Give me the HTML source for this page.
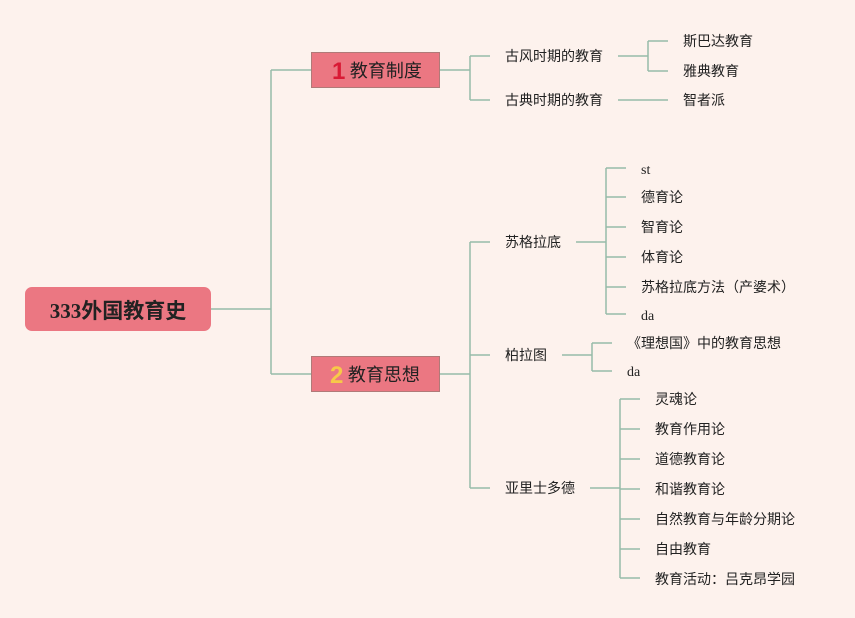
<!DOCTYPE html>
<html><head><meta charset="utf-8"><style>
body{margin:0;width:855px;height:618px;background:#fdf2ed;font-family:"Liberation Serif","Noto Sans CJK SC",sans-serif;position:relative;overflow:hidden}
.t{position:absolute;font-size:14px;color:#222;line-height:18px;white-space:nowrap;font-family:"Liberation Serif","Noto Sans CJK SC",sans-serif}
.box{position:absolute;background:#eb7782;border:1px solid #b07a78;box-sizing:border-box;color:#222}
</style></head><body>
<svg width="855" height="618" style="position:absolute;left:0;top:0" fill="none" stroke="#97bba9" stroke-width="1.5">
<path d="M211 309H271M271 70V374M271 70H311M271 374H311"/>
<path d="M440 70H470M470 56V100M470 56H490M470 100H490"/>
<path d="M618 56H648M648 41V71M648 41H668M648 71H668M618 100H668"/>
<path d="M440 374H470M470 242V488M470 242H490M470 355H490M470 488H490"/>
<path d="M576 242H606M606 168V314M606 168H626M606 197H626M606 227H626M606 257H626M606 287H626M606 314H626"/>
<path d="M562 355H592M592 343V371M592 343H612M592 371H612"/>
<path d="M590 488H620M620 399V578M620 399H640M620 429H640M620 459H640M620 489H640M620 519H640M620 549H640M620 578H640"/>
</svg>
<div class="box" style="left:25px;top:287px;width:186px;height:44px;border-radius:7px;border-color:#eb7782;font-weight:bold;font-size:21px;line-height:46px;text-align:center">333外国教育史</div>
<div class="box" style="left:311px;top:52px;width:129px;height:36px;font-size:18px;line-height:36px;padding-left:20px"><span style="color:#d91a35;font-weight:bold;font-family:'Liberation Sans',sans-serif;font-size:24px;vertical-align:-2px">1</span> 教育制度</div>
<div class="box" style="left:311px;top:356px;width:129px;height:36px;font-size:18px;line-height:36px;padding-left:18px"><span style="color:#f7c948;font-weight:bold;font-family:'Liberation Sans',sans-serif;font-size:24px;vertical-align:-2px">2</span> 教育思想</div>
<div class="t" style="left:505px;top:49px">古风时期的教育</div>
<div class="t" style="left:505px;top:93px">古典时期的教育</div>
<div class="t" style="left:683px;top:34px">斯巴达教育</div>
<div class="t" style="left:683px;top:64px">雅典教育</div>
<div class="t" style="left:683px;top:93px">智者派</div>
<div class="t" style="left:505px;top:235px">苏格拉底</div>
<div class="t" style="left:505px;top:348px">柏拉图</div>
<div class="t" style="left:505px;top:481px">亚里士多德</div>
<div class="t" style="left:641px;top:162px">st</div>
<div class="t" style="left:641px;top:190px">德育论</div>
<div class="t" style="left:641px;top:220px">智育论</div>
<div class="t" style="left:641px;top:250px">体育论</div>
<div class="t" style="left:641px;top:280px">苏格拉底方法（产婆术）</div>
<div class="t" style="left:641px;top:308px">da</div>
<div class="t" style="left:627px;top:336px">《理想国》中的教育思想</div>
<div class="t" style="left:627px;top:364px">da</div>
<div class="t" style="left:655px;top:392px">灵魂论</div>
<div class="t" style="left:655px;top:422px">教育作用论</div>
<div class="t" style="left:655px;top:452px">道德教育论</div>
<div class="t" style="left:655px;top:482px">和谐教育论</div>
<div class="t" style="left:655px;top:512px">自然教育与年龄分期论</div>
<div class="t" style="left:655px;top:542px">自由教育</div>
<div class="t" style="left:655px;top:572px">教育活动：吕克昂学园</div>
</body></html>
